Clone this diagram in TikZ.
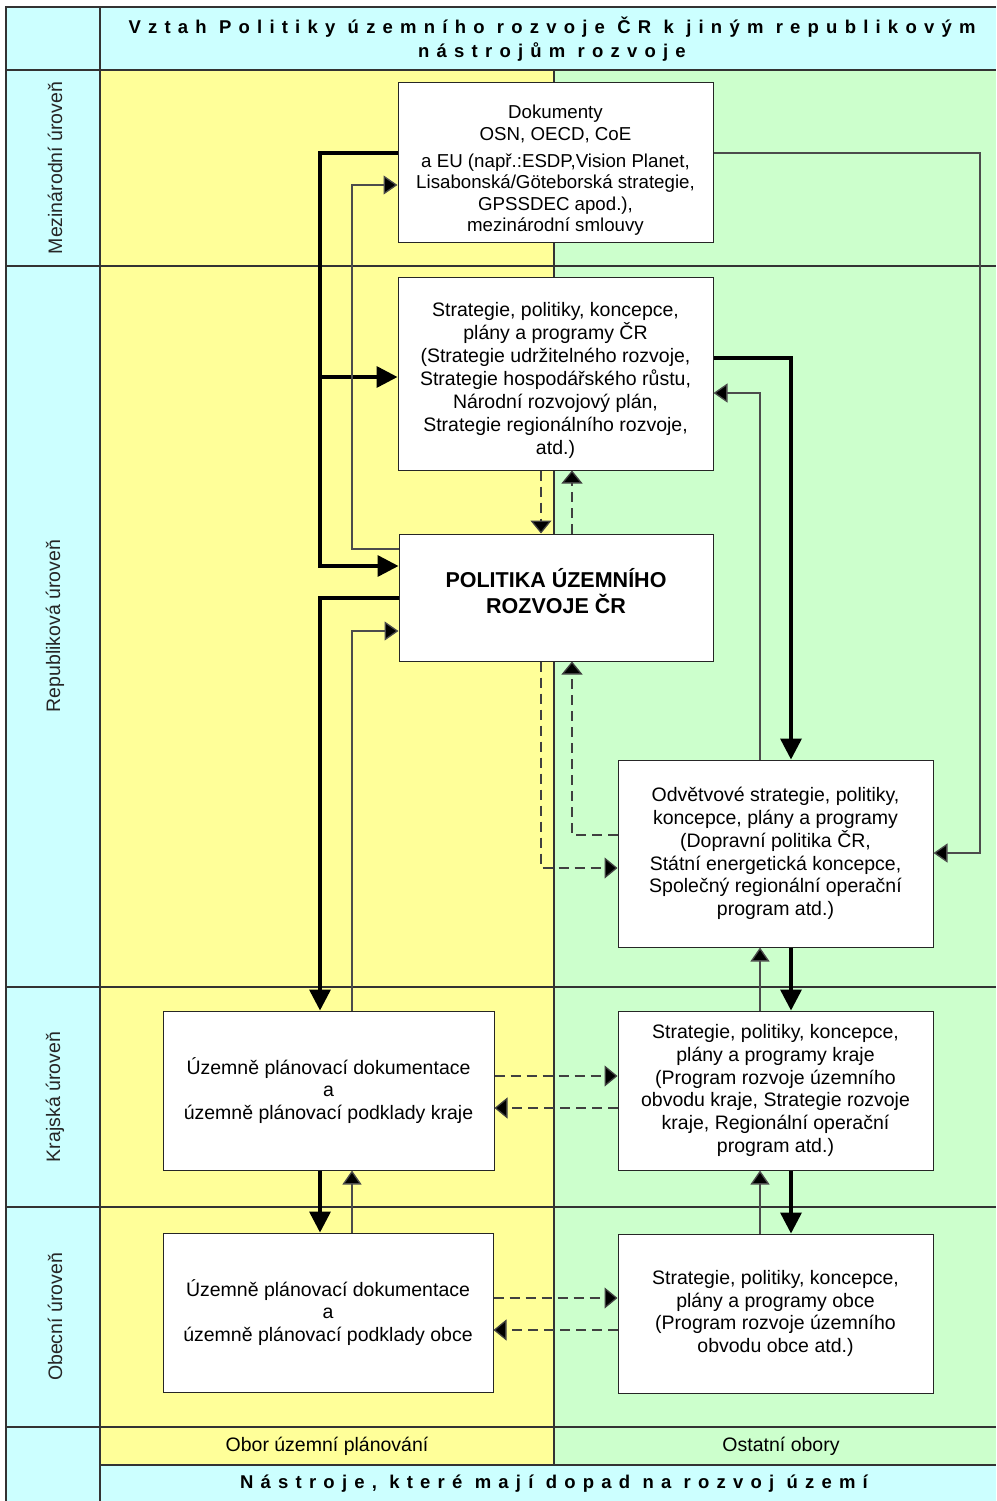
\documentclass[tikz,border=0pt]{standalone}
\usepackage{fontspec}
\setmainfont{Liberation Sans}
\newfontfamily\spacedfont[LetterSpace=39]{Liberation Sans}
\usepackage{xcolor}
\usepackage{tikz}
\usetikzlibrary{arrows.meta, positioning, calc}

\definecolor{cyanbg}{HTML}{CCFFFF}
\definecolor{yellowbg}{HTML}{FFFF99}
\definecolor{greenbg}{HTML}{CCFFCC}

\begin{document}
\begin{tikzpicture}[
    x=1pt, y=-1pt,
    box/.style={rectangle, draw=black!85, fill=white, line width=1pt, align=center, inner sep=0pt, font=\fontsize{19.5}{22.7}\selectfont},
    lvl/.style={rotate=90, font=\fontsize{19.5}{22}\selectfont, text=black!85},
    title/.style={align=center, font=\spacedfont\bfseries\fontsize{18.5}{24}\selectfont},
    grid/.style={draw=black!80, line width=1.2pt},
    heavy/.style={draw=black, line width=3.5pt, -{Triangle[length=21pt, width=21pt]}},
    light/.style={draw=black!70, line width=1.3pt, -{Triangle[length=14pt, width=19pt, fill=black]}},
    flow/.style={draw=black!75, line width=1.3pt, dash pattern=on 10pt off 6pt, -{Triangle[length=13pt, width=21pt, fill=black]}}
]
    \useasboundingbox (0,0) rectangle (996,1501);

    % Background table
    \fill[cyanbg] (6,7) rectangle (996,70);
    \fill[cyanbg] (6,70) rectangle (100,1501);
    \fill[yellowbg] (100,70) rectangle (554,1465);
    \fill[greenbg] (554,70) rectangle (996,1465);
    \fill[cyanbg] (100,1465) rectangle (996,1501);

    \draw[grid] (996,7) -- (6,7) -- (6,1501);
    \draw[grid] (100,7) -- (100,1501);
    \foreach \y in {70,266,987,1207,1427}
        \draw[grid] (6,\y) -- (996,\y);
    \draw[grid] (100,1465) -- (996,1465);
    \draw[grid] (554,70) -- (554,1465);

    % Titles
    \node[title] (T_TOP) at (552,39) {Vztah Politiky územního rozvoje ČR k jiným republikovým\\nástrojům rozvoje};
    \node[title] (T_BOT) at (554,1484) {Nástroje, které mají dopad na rozvoj území};

    % Levels
    \node[lvl] (L_MEZ) at (55,168)  {Mezinárodní úroveň};
    \node[lvl] (L_REP) at (55,626)  {Republiková úroveň};
    \node[lvl] (L_KRA) at (55,1097) {Krajská úroveň};
    \node[lvl] (L_OBE) at (55,1317) {Obecní úroveň};

    % Fields
    \node[font=\fontsize{19.5}{22}\selectfont] (F_UP)  at (327,1446) {Obor územní plánování};
    \node[font=\fontsize{19.5}{22}\selectfont] (F_OST) at (781,1446) {Ostatní obory};

    % Boxes
    \node[box, minimum width=315pt, minimum height=159pt, font=\fontsize{18.7}{21.3}\selectfont] (DOC_EU) at (555.5,162.5) {
        \rule{0pt}{29pt}Dokumenty\\
        OSN, OECD, CoE\\[6pt]
        a EU (např.:ESDP,Vision Planet,\\
        Lisabonská/Göteborská strategie,\\
        GPSSDEC apod.),\\
        mezinárodní smlouvy};
    \node[box, minimum width=315pt, minimum height=193pt, font=\fontsize{19.5}{23}\selectfont] (STR_CR) at (555.5,373.5) {
        \rule{0pt}{28pt}Strategie, politiky, koncepce,\\
        plány a programy ČR\\
        (Strategie udržitelného rozvoje,\\
        Strategie hospodářského růstu,\\
        Národní rozvojový plán,\\
        Strategie regionálního rozvoje,\\
        atd.)};
    \node[box, minimum width=314pt, minimum height=127pt, text depth=14pt, font=\bfseries\fontsize{21.5}{26}\selectfont] (PUR) at (556,597.5) {
        POLITIKA ÚZEMNÍHO\\
        ROZVOJE ČR};
    \node[box, minimum width=315pt, minimum height=187pt] (STR_SEK) at (775.5,853.5) {
        Odvětvové strategie, politiky,\\
        koncepce, plány a programy\\
        (Dopravní politika ČR,\\
        Státní energetická koncepce,\\
        Společný regionální operační\\
        program atd.)};
    \node[box, minimum width=331pt, minimum height=159pt] (UP_KR) at (328.5,1090.5) {
        Územně plánovací dokumentace\\
        a\\
        územně plánovací podklady kraje};
    \node[box, minimum width=315pt, minimum height=159pt] (STR_KR) at (775.5,1090.5) {
        Strategie, politiky, koncepce,\\
        plány a programy kraje\\
        (Program rozvoje územního\\
        obvodu kraje, Strategie rozvoje\\
        kraje, Regionální operační\\
        program atd.)};
    \node[box, minimum width=330pt, minimum height=159pt] (UP_OB) at (328,1312.5) {
        Územně plánovací dokumentace\\
        a\\
        územně plánovací podklady obce};
    \node[box, minimum width=315pt, minimum height=159pt] (STR_OB) at (775.5,1313.5) {
        Strategie, politiky, koncepce,\\
        plány a programy obce\\
        (Program rozvoje územního\\
        obvodu obce atd.)};

    % Thick connections
    \draw[heavy] (DOC_EU.west |- 0,153) -- (320,153) -- (320,566) -- (PUR.west |- 0,566);
    \draw[heavy] (320,377) -- (STR_CR.west |- 0,377);
    \draw[heavy] (PUR.west |- 0,598) -- (320,598) -- (UP_KR.north -| 320,0);
    \draw[heavy] (STR_CR.east |- 0,358) -- (791,358) -- (STR_SEK.north -| 791,0);
    \draw[heavy] (STR_SEK.south -| 791,0) -- (STR_KR.north -| 791,0);
    \draw[heavy] (STR_KR.south -| 791,0) -- (STR_OB.north -| 791,0);
    \draw[heavy] (UP_KR.south -| 320,0) -- (UP_OB.north -| 320,0);

    % Thin connections
    \draw[light] (PUR.west |- 0,549) -- (352,549) -- (352,185) -- (DOC_EU.west |- 0,185);
    \draw[light] (UP_KR.north -| 352,0) -- (352,631) -- (PUR.west |- 0,631);
    \draw[light] (UP_OB.north -| 352,0) -- (UP_KR.south -| 352,0);
    \draw[light] (STR_SEK.north -| 760,0) -- (760,393) -- (STR_CR.east |- 0,393);
    \draw[light] (DOC_EU.east |- 0,153) -- (980,153) -- (980,853) -- (STR_SEK.east |- 0,853);
    \draw[light] (STR_KR.north -| 760,0) -- (STR_SEK.south -| 760,0);
    \draw[light] (STR_OB.north -| 760,0) -- (STR_KR.south -| 760,0);

    % Dashed connections
    \draw[flow] (STR_CR.south -| 541,0) -- (PUR.north -| 541,0);
    \draw[flow] (PUR.north -| 572,0) -- (STR_CR.south -| 572,0);
    \draw[flow] (STR_SEK.west |- 0,835) -- (572,835) -- (PUR.south -| 572,0);
    \draw[flow] (PUR.south -| 541,0) -- (541,868) -- (STR_SEK.west |- 0,868);
    \draw[flow] (UP_KR.east |- 0,1076) -- (STR_KR.west |- 0,1076);
    \draw[flow] (STR_KR.west |- 0,1108) -- (UP_KR.east |- 0,1108);
    \draw[flow] (UP_OB.east |- 0,1298) -- (STR_OB.west |- 0,1298);
    \draw[flow] (STR_OB.west |- 0,1330) -- (UP_OB.east |- 0,1330);
\end{tikzpicture}
\end{document}
